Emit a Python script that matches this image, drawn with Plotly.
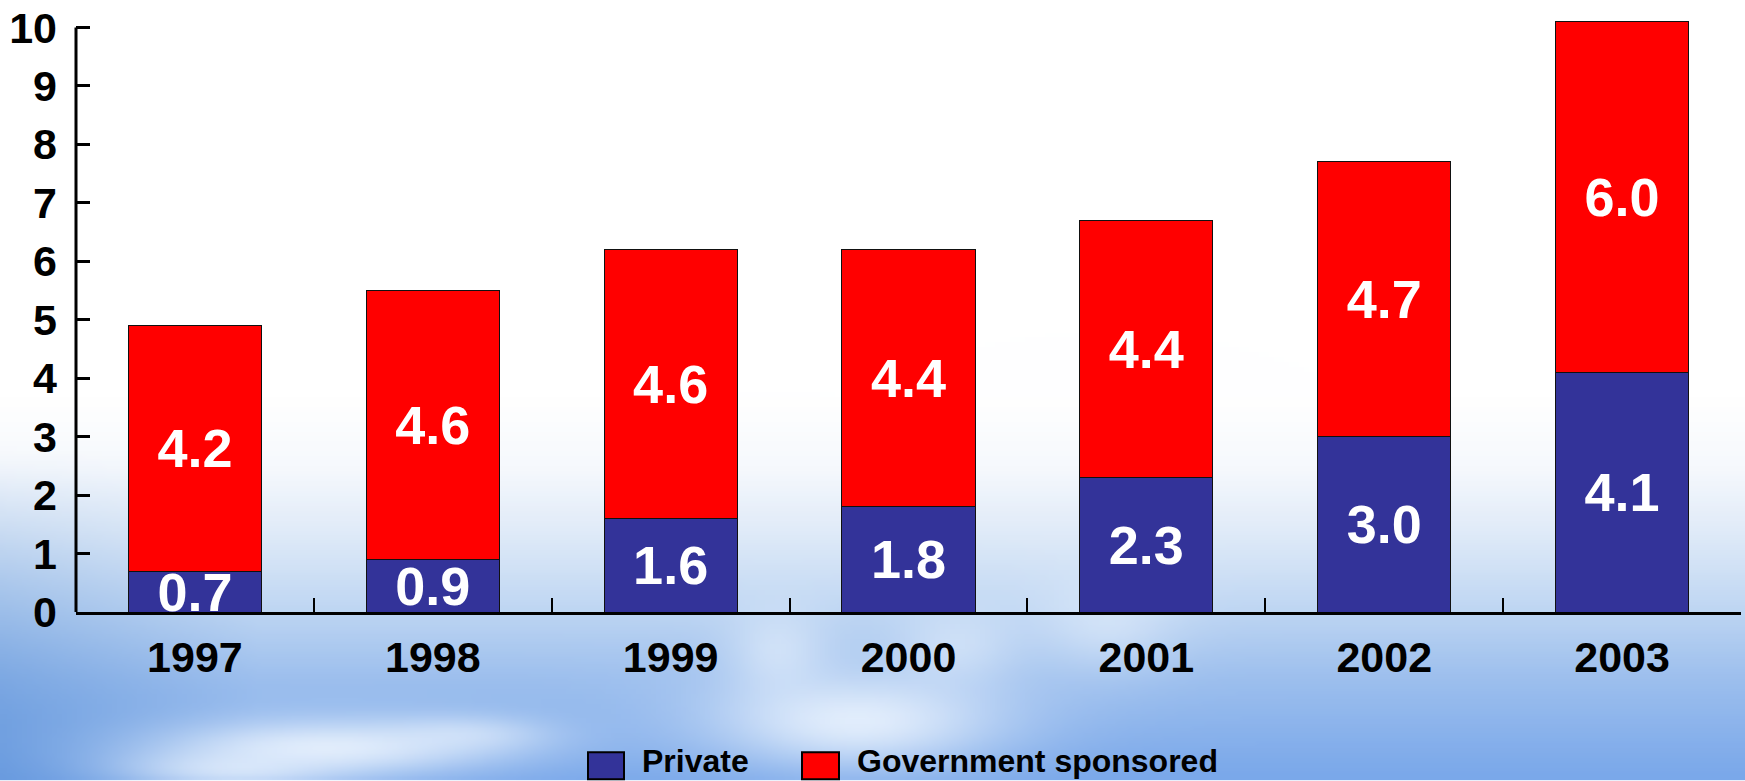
import base64
import struct
import zlib

import numpy as np
import plotly.graph_objects as go

# ---- data -------------------------------------------------------------
years = ["1997", "1998", "1999", "2000", "2001", "2002", "2003"]
private = [0.7, 0.9, 1.6, 1.8, 2.3, 3.0, 4.1]
government = [4.2, 4.6, 4.6, 4.4, 4.4, 4.7, 6.0]
series_names = ["Private", "Government sponsored"]
series_colors = ["#333399", "#FF0000"]
y_ticks = list(range(0, 11))

# ---- figure geometry (pixels) ------------------------------------------
W, H = 1745, 781
ML, MR, MT, MB = 76, 4, 7, 169
PW, PH = W - ML - MR, H - MT - MB


def paper_x(px):
    return (px - ML) / PW


def paper_y(py):
    return (H - MB - py) / PH


# ---- sky backdrop rendered to a small PNG -------------------------------
def sky_png():
    s = 5
    w, h = W // s + 1, H // s + 1
    xs = (np.arange(w) + 0.5) * s
    ys = (np.arange(h) + 0.5) * s
    X, Y = np.meshgrid(xs, ys)

    stops_y = [0, 400, 470, 540, 610, 680, 781]
    stops_c = [(255, 255, 255), (255, 255, 255), (246, 249, 253),
               (222, 234, 248), (192, 215, 243), (158, 192, 238),
               (122, 168, 234)]
    img = np.zeros((h, w, 3))
    for ch in range(3):
        img[..., ch] = np.interp(Y, stops_y, [c[ch] for c in stops_c])

    # deeper blue on the lower left
    wl = np.clip((260 - X) / 260, 0, 1) * np.clip((Y - 450) / 280, 0, 1) * 0.55
    deep = np.array([88, 142, 214])
    img = img * (1 - wl[..., None]) + deep * wl[..., None]

    # soft clouds
    clouds = [
        (330, 752, 180, 30, 0.85),
        (230, 775, 110, 20, 0.65),
        (470, 738, 80, 18, 0.45),
        (860, 725, 150, 50, 0.85),
        (780, 655, 50, 45, 0.50),
        (960, 650, 60, 40, 0.45),
        (1110, 625, 70, 50, 0.45),
    ]
    keep = np.ones_like(X)
    for cx, cy, sx, sy, k in clouds:
        g = k * np.exp(-(((X - cx) / sx) ** 2 + ((Y - cy) / sy) ** 2))
        keep *= 1 - g
    amt = 1 - keep
    white = np.array([240, 247, 255])
    img = img * (1 - amt[..., None]) + white * amt[..., None]

    arr = np.clip(img, 0, 255).astype(np.uint8)
    raw = b"".join(b"\x00" + arr[r].tobytes() for r in range(h))

    def chunk(tag, data):
        return (struct.pack(">I", len(data)) + tag + data
                + struct.pack(">I", zlib.crc32(tag + data) & 0xFFFFFFFF))

    png = (b"\x89PNG\r\n\x1a\n"
           + chunk(b"IHDR", struct.pack(">IIBBBBB", w, h, 8, 2, 0, 0, 0))
           + chunk(b"IDAT", zlib.compress(raw, 9))
           + chunk(b"IEND", b""))
    return "data:image/png;base64," + base64.b64encode(png).decode()


# ---- traces -------------------------------------------------------------
label_font = dict(family="Liberation Sans, Arial, sans-serif", size=54,
                  color="white", weight="bold")

fig = go.Figure()
for name, vals, color in zip(series_names, [private, government], series_colors):
    fig.add_trace(go.Bar(
        x=years,
        y=vals,
        name=name,
        marker=dict(color=color, line=dict(color="#111111", width=1)),
        text=[f"{v:.1f}" for v in vals],
        textposition="inside",
        insidetextanchor="middle",
        constraintext="none",
        textangle=0,
        textfont=label_font,
        cliponaxis=True,
        showlegend=False,
    ))

# ---- hand-drawn legend --------------------------------------------------
shapes = []
annotations = []
legend_boxes = [(588, 624), (802, 839)]
legend_text_x = [641, 856]
for (x0, x1), tx, name, color in zip(legend_boxes, legend_text_x, series_names, series_colors):
    shapes.append(dict(type="rect", xref="paper", yref="paper",
                       x0=paper_x(x0), x1=paper_x(x1),
                       y0=paper_y(780), y1=paper_y(753),
                       fillcolor=color, line=dict(color="black", width=2)))
    annotations.append(dict(xref="paper", yref="paper", x=paper_x(tx), y=paper_y(781),
                            xanchor="left", yanchor="bottom", showarrow=False,
                            borderpad=0,
                            text=name,
                            font=dict(family="Liberation Sans, Arial, sans-serif",
                                      size=32, color="black", weight="bold")))

# value axis line stops at the top tick
shapes.append(dict(type="line", xref="paper", yref="y", x0=0, x1=0, y0=0, y1=10,
                   line=dict(color="black", width=3), layer="above"))

tick_font = dict(family="Liberation Sans, Arial, sans-serif", size=43,
                 color="black", weight="bold")

fig.update_layout(
    width=W,
    height=H,
    margin=dict(l=ML, r=MR, t=MT, b=MB, pad=0),
    barmode="stack",
    bargap=0.44,
    paper_bgcolor="white",
    plot_bgcolor="rgba(0,0,0,0)",
    shapes=shapes,
    annotations=annotations,
    images=[dict(source=sky_png(), xref="paper", yref="paper",
                 x=paper_x(0), y=paper_y(0),
                 sizex=W / PW, sizey=H / PH,
                 xanchor="left", yanchor="top",
                 sizing="stretch", layer="below")],
    xaxis=dict(
        type="category",
        showline=True, linecolor="black", linewidth=3,
        ticks="inside", tickson="boundaries", ticklen=14, tickwidth=2,
        tickcolor="black",
        showgrid=False, zeroline=False,
        tickfont=tick_font,
        ticklabelstandoff=5,
    ),
    yaxis=dict(
        range=[0, 10.3],
        tickvals=y_ticks,
        ticktext=[str(t) for t in y_ticks],
        ticks="inside", ticklen=14, tickwidth=3, tickcolor="black",
        showline=False, showgrid=False, zeroline=False,
        tickfont=tick_font,
        ticklabelstandoff=18,
    ),
)

fig.write_html("out.html")
